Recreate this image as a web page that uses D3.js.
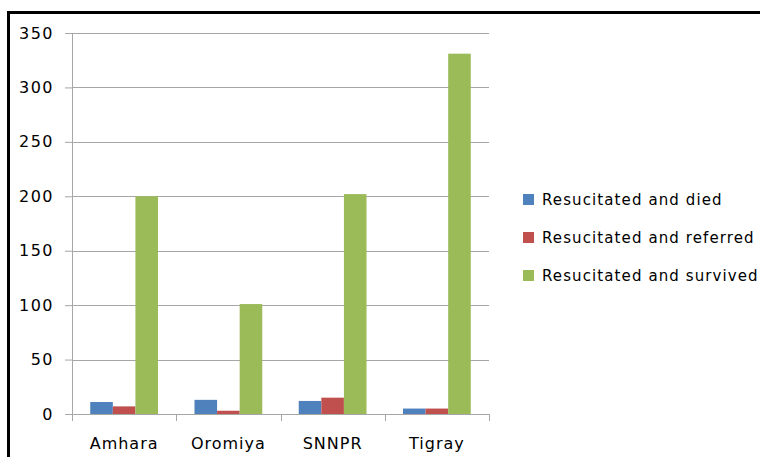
<!DOCTYPE html>
<html>
<head>
<meta charset="utf-8">
<script src="https://cdn.jsdelivr.net/npm/d3@7"></script>
<style>
  body { margin: 0; background: #fff; }
  svg { display: block; }
</style>
</head>
<body>
<div id="chart"></div>
<script>
// Regions on the x axis
const regions = ["Amhara", "Oromiya", "SNNPR", "Tigray"];

// Series (one value per region)
const seriesNames = ["Resucitated and died", "Resucitated and referred", "Resucitated and survived"];
const died = [11, 13, 12, 5];
const referred = [7, 3, 15, 5];
const survived = [200, 101, 202, 331];

const yTicks = [0, 50, 100, 150, 200, 250, 300, 350];

// Excel 2007 default palette
const COLORS = ["#4F81BD", "#C0504D", "#9BBB59"];

const width = 760, height = 457;
const margin = {top: 33, right: 271, bottom: 43, left: 72};

const svg = d3.select('#chart')
    .append('svg')
    .attr('width', width)
    .attr('height', height);

// outer frame (only top and left edges show inside the window)
svg.append('rect')
    .attr('x', 8.5)
    .attr('y', 12.5)
    .attr('width', width)
    .attr('height', height)
    .attr('fill', 'none')
    .attr('stroke', '#000')
    .attr('stroke-width', 3);

const plotW = width - margin.left - margin.right;
const plotH = height - margin.top - margin.bottom;

const g = svg.append('g')
    .attr('transform', `translate(${margin.left},${margin.top})`);

const x = d3.scaleBand()
    .domain(regions)
    .range([0, plotW])
    .paddingInner(0.35)
    .paddingOuter(0.175);

const xSub = d3.scaleBand()
    .domain(seriesNames)
    .range([0, x.bandwidth()]);

const y = d3.scaleLinear()
    .domain([0, 350])
    .range([plotH, 0]);

// horizontal gridlines
g.append('g')
    .selectAll('line')
    .data(yTicks.filter(d => d > 0))
    .enter()
    .append('line')
    .attr('x1', 0)
    .attr('x2', plotW)
    .attr('y1', d => Math.round(y(d)) + 0.5)
    .attr('y2', d => Math.round(y(d)) + 0.5)
    .attr('stroke', '#a6a6a6')
    .attr('stroke-width', 1);

// y axis
const yAxis = d3.axisLeft(y)
    .tickValues(yTicks)
    .tickSize(7)
    .tickPadding(11);

const yg = g.append('g').call(yAxis);
yg.select('.domain').attr('stroke', '#a6a6a6').attr('d', `M0.5,0V${plotH}`);
yg.selectAll('.tick line').attr('stroke', '#a6a6a6');
yg.selectAll('text')
    .style('fill', '#000')
    .style('font-size', '16px')
    .style('letter-spacing', '1.5px')
    .style('font-family', 'DejaVu Sans, sans-serif');

// x axis with ticks between categories
const xg = g.append('g')
    .attr('transform', `translate(0,${plotH})`);

xg.append('line')
    .attr('x1', -7)
    .attr('x2', plotW)
    .attr('y1', 0.5)
    .attr('y2', 0.5)
    .attr('stroke', '#a6a6a6');

const boundaries = regions.map(r => x(r) - x.step() * x.paddingInner() / 2);
boundaries.push(plotW);
boundaries[0] = 0;

xg.selectAll('.sep')
    .data(boundaries)
    .enter()
    .append('line')
    .attr('class', 'sep')
    .attr('x1', d => Math.round(d) + 0.5)
    .attr('x2', d => Math.round(d) + 0.5)
    .attr('y1', 0)
    .attr('y2', 7)
    .attr('stroke', '#a6a6a6');

xg.selectAll('.cat')
    .data(regions)
    .enter()
    .append('text')
    .attr('class', 'cat')
    .attr('x', d => x(d) + x.bandwidth() / 2)
    .attr('y', 35)
    .attr('text-anchor', 'middle')
    .style('fill', '#000')
    .style('font-size', '16px')
    .style('letter-spacing', '1px')
    .style('font-family', 'DejaVu Sans, sans-serif')
    .text(d => d);

// bars
const seriesData = [died, referred, survived];

seriesData.forEach((values, si) => {
    g.append('g')
        .selectAll('rect')
        .data(values)
        .enter()
        .append('rect')
        .attr('x', (d, i) => x(regions[i]) + xSub(seriesNames[si]))
        .attr('y', d => y(d))
        .attr('width', xSub.bandwidth())
        .attr('height', d => plotH - y(d))
        .attr('fill', COLORS[si]);
});

// legend
const legend = svg.append('g')
    .attr('transform', 'translate(523,200)');

seriesNames.forEach((name, i) => {
    const ly = i * 38;
    legend.append('rect')
        .attr('x', 0)
        .attr('y', ly - 6)
        .attr('width', 11)
        .attr('height', 11)
        .attr('fill', COLORS[i]);
    legend.append('text')
        .attr('x', 19)
        .attr('y', ly + 5)
        .style('fill', '#000')
        .style('font-size', '15px')
        .style('letter-spacing', '1.1px')
        .style('font-family', 'DejaVu Sans, sans-serif')
        .text(name);
});
</script>
</body>
</html>
